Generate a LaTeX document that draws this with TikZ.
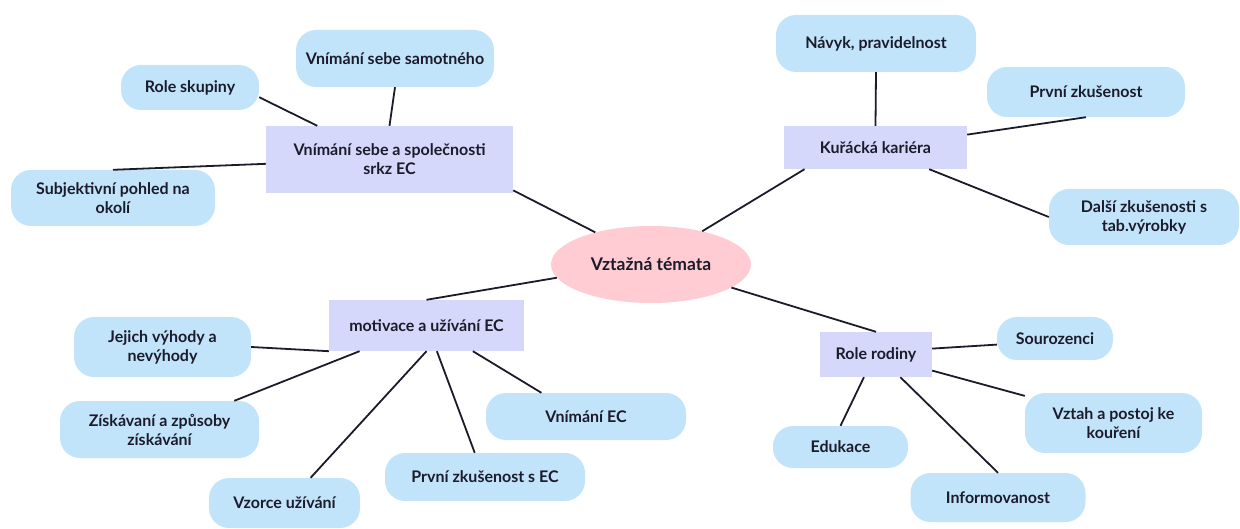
\documentclass[tikz,border=0pt]{standalone}
\usepackage{fontspec}
\setmainfont{Lato}
\usetikzlibrary{shapes.geometric}
\definecolor{leafblue}{HTML}{C2E4FB}
\definecolor{hublav}{HTML}{D5D8FB}
\definecolor{rootpink}{HTML}{FFCCD3}
\definecolor{inkc}{HTML}{1B1B2A}
\tikzset{
  leaf/.style={rectangle, rounded corners=20pt, fill=leafblue, align=center, text=inkc,
     font=\fontsize{16}{19}\selectfont\bfseries, inner sep=0pt},
  hub/.style={rectangle, fill=hublav, align=center, text=inkc,
     font=\fontsize{16}{19}\selectfont\bfseries, inner sep=0pt},
  root/.style={ellipse, fill=rootpink, text=inkc, inner sep=0pt,
     font=\fontsize{17.5}{20}\selectfont\bfseries},
  conn/.style={line width=1.8pt, draw=inkc}
}
\begin{document}
\begin{tikzpicture}[x=1pt,y=-1pt]
\useasboundingbox (0,0) rectangle (1240,529);
% root
\node[root, minimum width=200pt, minimum height=77pt] (c) at (651,264.5) {Vztažná témata};
% hubs
\node[hub, minimum width=247pt, minimum height=67pt] (vs) at (389.5,159.5) {Vnímání sebe a společnosti\\srkz EC};
\node[hub, minimum width=183pt, minimum height=43pt] (kk) at (875.5,147.5) {Kuřácká kariéra};
\node[hub, minimum width=195pt, minimum height=51pt] (mot) at (426.5,325.5) {motivace a užívání EC};
\node[hub, minimum width=112pt, minimum height=45pt] (rr) at (876,354.5) {Role rodiny};
% leaves top-left
\node[leaf, minimum width=198pt, minimum height=57pt] (vss) at (395,58.5) {Vnímání sebe samotného};
\node[leaf, minimum width=138pt, minimum height=45pt] (rs) at (190,87.5) {Role skupiny};
\node[leaf, minimum width=204pt, minimum height=56pt] (sub) at (113,198) {Subjektivní pohled na\\okolí};
% leaves top-right
\node[leaf, minimum width=200pt, minimum height=57pt] (nav) at (876,43.5) {Návyk, pravidelnost};
\node[leaf, minimum width=198pt, minimum height=50pt] (prv) at (1086,92) {První zkušenost};
\node[leaf, minimum width=190pt, minimum height=56pt] (dal) at (1144,217) {Další zkušenosti s\\tab.výrobky};
% leaves bottom-left
\node[leaf, minimum width=177pt, minimum height=60pt] (jej) at (162.5,347) {Jejich výhody a\\nevýhody};
\node[leaf, minimum width=199pt, minimum height=57pt] (zis) at (159.5,429.5) {Získávaní a způsoby\\získávání};
\node[leaf, minimum width=151pt, minimum height=50pt] (vzo) at (284.5,503) {Vzorce užívání};
\node[leaf, minimum width=200pt, minimum height=48pt] (pze) at (485,477) {První zkušenost s EC};
\node[leaf, minimum width=200pt, minimum height=47pt] (vec) at (586,416.5) {Vnímání EC};
% leaves bottom-right
\node[leaf, minimum width=116pt, minimum height=43pt] (sou) at (1055,338.5) {Sourozenci};
\node[leaf, minimum width=177pt, minimum height=60pt] (vzt) at (1113.5,423) {Vztah a postoj ke\\kouření};
\node[leaf, minimum width=135pt, minimum height=42pt] (edu) at (840.5,447) {Edukace};
\node[leaf, minimum width=175pt, minimum height=49pt] (inf) at (998,497.5) {Informovanost};
% connectors
\draw[conn] (rs.-8) -- (vs.155);
\draw[conn] (vss.south) -- (vs.north);
\draw[conn] (sub.north) -- (vs.182);
\draw[conn] (vs.-14) -- (c.150);
\draw[conn] (nav.south) -- (kk.north);
\draw[conn] (kk.8) -- (prv.south);
\draw[conn] (kk.-22) -- (dal.west);
\draw[conn] (kk.197) -- (c.33);
\draw[conn] (c.188) -- (mot.north);
\draw[conn] (jej.east) -- (mot.south west);
\draw[conn] (zis.21) -- (mot.201);
\draw[conn] (vzo.44) -- (mot.south);
\draw[conn] (pze.113) -- (mot.-68);
\draw[conn] (vec.152) -- (mot.-29);
\draw[conn] (c.-16) -- (rr.north);
\draw[conn] (rr.6) -- (sou.186);
\draw[conn] (rr.-16) -- (vzt.163);
\draw[conn] (rr.242) -- (edu.north);
\draw[conn] (rr.-43) -- (inf.north);
\end{tikzpicture}
\end{document}
